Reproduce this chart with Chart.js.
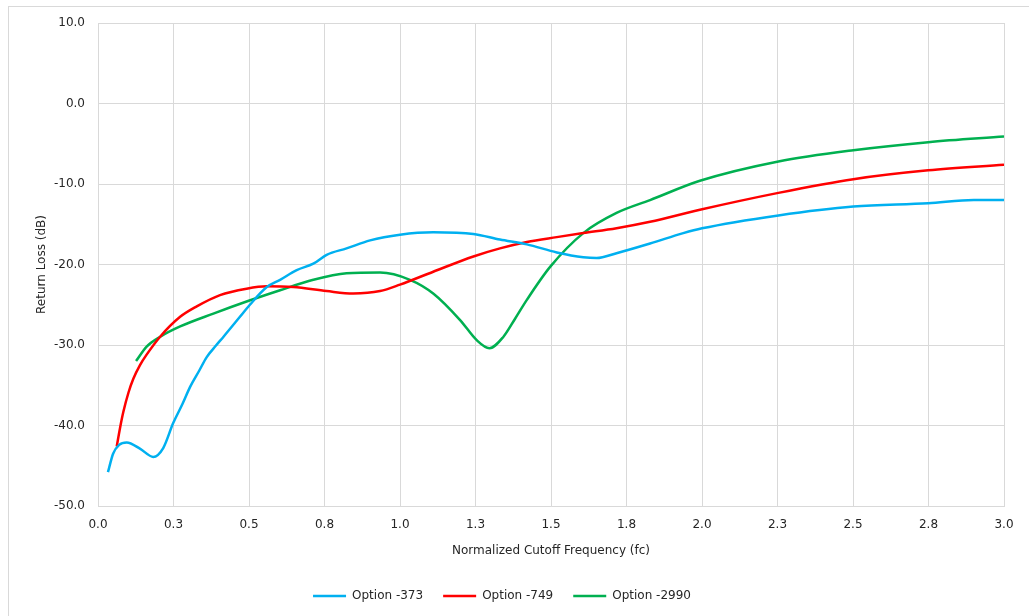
<!DOCTYPE html>
<html>
<head>
<meta charset="utf-8">
<script src="https://cdn.jsdelivr.net/npm/chart.js@4"></script>
<style>
  html, body { margin: 0; padding: 0; background: #fff; }
  #wrap { position: relative; width: 1029px; height: 616px; }
</style>
</head>
<body>
<div id="wrap"><canvas id="chart" width="1029" height="616"></canvas></div>
<script>
// tick labels (Excel style, 0.25 steps shown with one decimal)
const xTickLabels = ['0.0','0.3','0.5','0.8','1.0','1.3','1.5','1.8','2.0','2.3','2.5','2.8','3.0'];
const yTickLabels = ['-50.0','-40.0','-30.0','-20.0','-10.0','0.0','10.0'];

// Option -373
const x373 = [0.033, 0.05, 0.07, 0.095, 0.14, 0.183, 0.216, 0.249, 0.28, 0.305, 0.335, 0.36, 0.39, 0.415, 0.47, 0.503, 0.559, 0.603, 0.658, 0.713, 0.757, 0.823, 0.901, 1.0, 1.11, 1.243, 1.331, 1.42, 1.519, 1.607, 1.651, 1.717, 1.828, 1.938, 2.0, 2.253, 2.501, 2.749, 2.9, 3.0];
const y373 = [-45.8, -43.5, -42.4, -42.1, -42.9, -43.9, -42.8, -39.7, -37.3, -35.2, -33.2, -31.5, -30.1, -29.0, -26.5, -25.0, -22.8, -21.9, -20.7, -19.9, -18.8, -18.0, -17.0, -16.3, -16.0, -16.2, -16.9, -17.5, -18.5, -19.1, -19.2, -18.6, -17.4, -16.1, -15.5, -13.9, -12.8, -12.4, -12.0, -12.0];

// Option -749
const x749 = [0.062, 0.073, 0.084, 0.101, 0.117, 0.139, 0.161, 0.205, 0.272, 0.327, 0.404, 0.492, 0.559, 0.647, 0.757, 0.845, 0.934, 1.0, 1.11, 1.243, 1.331, 1.42, 1.519, 1.607, 1.717, 1.828, 1.993, 2.253, 2.501, 2.749, 3.0];
const y749 = [-42.6, -40.3, -38.3, -35.9, -34.2, -32.5, -31.2, -29.0, -26.5, -25.2, -23.8, -23.0, -22.7, -22.8, -23.3, -23.6, -23.3, -22.5, -20.9, -19.0, -18.0, -17.2, -16.6, -16.1, -15.5, -14.7, -13.2, -11.1, -9.4, -8.3, -7.6];

// Option -2990
const x2990 = [0.126, 0.161, 0.205, 0.272, 0.382, 0.492, 0.603, 0.713, 0.823, 0.934, 1.033, 1.11, 1.199, 1.254, 1.296, 1.342, 1.38, 1.42, 1.497, 1.607, 1.717, 1.828, 1.993, 2.253, 2.501, 2.749, 3.0];
const y2990 = [-32.0, -30.2, -29.0, -27.7, -26.1, -24.6, -23.2, -21.9, -21.1, -21.0, -21.9, -23.6, -26.9, -29.4, -30.4, -29.0, -26.8, -24.4, -20.3, -16.1, -13.6, -12.0, -9.6, -7.2, -5.8, -4.8, -4.1];

function pts(xs, ys) {
  return xs.map((x, i) => ({ x: x, y: ys[i] }));
}

function series(label, xs, ys, color) {
  return {
    label: label,
    data: pts(xs, ys),
    borderColor: color,
    backgroundColor: color,
    borderWidth: 2.5,
    pointRadius: 0,
    cubicInterpolationMode: 'monotone',
    fill: false
  };
}

// light frame around the whole chart (only top/left visible in the picture)
const frame = {
  id: 'frame',
  beforeDraw(chart) {
    const c = chart.ctx;
    c.save();
    c.strokeStyle = '#d9d9d9';
    c.lineWidth = 1;
    c.strokeRect(8.5, 6.5, 1100, 700);
    c.restore();
  }
};

const font = { family: 'DejaVu Sans', size: 12 };
const gridColor = '#d9d9d9';

new Chart(document.getElementById('chart').getContext('2d'), {
  type: 'line',
  data: {
    datasets: [
      series('Option -373', x373, y373, '#00b0f0'),
      series('Option -749', x749, y749, '#ff0000'),
      series('Option -2990', x2990, y2990, '#00b050')
    ]
  },
  plugins: [frame],
  options: {
    responsive: false,
    animation: false,
    layout: { padding: { top: 23, right: 25, bottom: 4, left: 0 } },
    plugins: {
      tooltip: { enabled: false },
      legend: {
        position: 'bottom',
        labels: {
          font: font,
          color: '#262626',
          usePointStyle: true,
          pointStyle: 'line',
          pointStyleWidth: 33,
          boxWidth: 33,
          padding: 20
        }
      }
    },
    scales: {
      x: {
        type: 'linear',
        min: 0,
        max: 3,
        afterBuildTicks: (scale) => {
          scale.ticks = xTickLabels.map((t, i) => ({ value: i * 0.25 }));
        },
        afterFit: (scale) => { scale.height = 64; },
        ticks: {
          font: font,
          color: '#262626',
          padding: 12,
          maxRotation: 0,
          autoSkip: false,
          callback: (v, i) => xTickLabels[i]
        },
        grid: { color: gridColor, drawTicks: false },
        border: { color: gridColor },
        title: {
          display: true,
          text: 'Normalized Cutoff Frequency (fc)',
          font: font,
          color: '#262626',
          padding: { top: 0, bottom: 12 }
        }
      },
      y: {
        min: -50,
        max: 10,
        afterBuildTicks: (scale) => {
          scale.ticks = yTickLabels.map((t, i) => ({ value: -50 + i * 10 }));
        },
        afterFit: (scale) => { scale.width = 98; },
        ticks: {
          font: font,
          color: '#262626',
          padding: 13,
          callback: (v, i) => yTickLabels[i]
        },
        grid: { color: gridColor, drawTicks: false },
        border: { color: gridColor },
        title: {
          display: true,
          text: 'Return Loss (dB)',
          font: font,
          color: '#262626',
          padding: { top: 35, bottom: 0 }
        }
      }
    }
  }
});
</script>
</body>
</html>
